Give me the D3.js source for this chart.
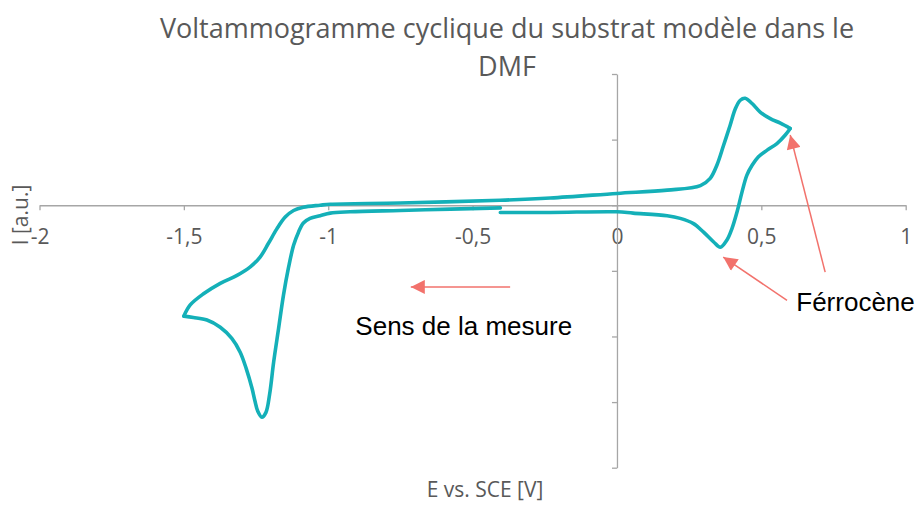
<!DOCTYPE html>
<html>
<head>
<meta charset="utf-8">
<script src="https://cdn.jsdelivr.net/npm/d3@7"></script>
<style>
  html, body { margin: 0; padding: 0; background: #fff; }
  svg { display: block; }
</style>
</head>
<body>
<script>
// Potential (V vs. SCE) and current (a.u.) for each sweep of the cycle
const sweep1E = [-0.404, -0.577, -0.751, -0.924, -0.993, -1.028, -1.063, -1.086, -1.103, -1.120, -1.138, -1.155, -1.172, -1.189, -1.203, -1.216, -1.230, -1.244, -1.254, -1.264, -1.284, -1.305, -1.334, -1.374, -1.420, -1.467, -1.500];
const sweep1I = [-0.04, -0.06, -0.08, -0.10, -0.12, -0.16, -0.20, -0.27, -0.41, -0.61, -0.96, -1.37, -1.88, -2.39, -2.88, -3.16, -3.23, -3.14, -2.98, -2.79, -2.49, -2.24, -2.03, -1.86, -1.75, -1.71, -1.69];

const sweep2E = [-1.500, -1.478, -1.432, -1.374, -1.316, -1.270, -1.236, -1.207, -1.178, -1.149, -1.120, -1.086, -1.028, -0.993, -0.751, -0.404, -0.231, 0.000, 0.174, 0.289, 0.323, 0.346, 0.369, 0.392, 0.410, 0.427, 0.444, 0.468, 0.496, 0.531, 0.566, 0.600];
const sweep2I = [-1.69, -1.52, -1.35, -1.19, -1.07, -0.94, -0.79, -0.58, -0.36, -0.18, -0.08, -0.03, 0.00, 0.015, 0.035, 0.076, 0.11, 0.18, 0.23, 0.30, 0.41, 0.61, 0.91, 1.22, 1.47, 1.60, 1.63, 1.55, 1.42, 1.32, 1.25, 1.17];

const sweep3E = [0.600, 0.583, 0.554, 0.520, 0.490, 0.468, 0.450, 0.433, 0.416, 0.398, 0.381, 0.358, 0.335, 0.300, 0.265, 0.219, 0.174, 0.056, 0.000, -0.231, -0.404];
const sweep3I = [1.17, 1.07, 0.94, 0.84, 0.74, 0.61, 0.46, 0.20, -0.10, -0.36, -0.53, -0.64, -0.56, -0.41, -0.28, -0.20, -0.16, -0.12, -0.10, -0.11, -0.11];

// Axis ticks
const xTicks = [-2, -1.5, -1, -0.5, 0, 0.5, 1];
const yTicks = [-4, -3, -2, -1, 0, 1, 2];

// Annotation arrows: [fromE, fromI, toE, toI]
const arrows = [
  [-0.370, -1.245, -0.714, -1.245],
  [0.589, -1.45, 0.368, -0.79],
  [0.721, -1.02, 0.600, 1.07]
];

const width = 919, height = 505;
const x = d3.scaleLinear().domain([-2, 1]).range([39.5, 905.7]);
const y = d3.scaleLinear().domain([-4, 2]).range([467.7, 74]);

const svg = d3.select("body").append("svg")
  .attr("width", width).attr("height", height);

const axisColor = "#A6A6A6";
const textColor = "#595959";
const curveColor = "#14B0B8";
const arrowColor = "#F2726C";
const uiFont = "'Open Sans', 'Noto Sans', sans-serif";

// Title
const title = svg.append("text")
  .attr("text-anchor", "middle")
  .attr("fill", textColor)
  .style("font-family", uiFont)
  .style("font-size", "27px");
title.append("tspan").attr("x", 507).attr("y", 38).text("Voltammogramme cyclique du substrat modèle dans le");
title.append("tspan").attr("x", 507).attr("y", 76).text("DMF");

// X axis along I = 0
const xAxis = d3.axisBottom(x)
  .tickValues(xTicks)
  .tickSize(5)
  .tickSizeOuter(0)
  .tickFormat(d => d3.format("")(d).replace(".", ",").replace("−", "-"));
const gx = svg.append("g")
  .attr("transform", `translate(0,${y(0)})`)
  .call(xAxis);
gx.select(".domain").attr("stroke", axisColor).attr("stroke-width", 1.3);
gx.selectAll(".tick line").attr("stroke", axisColor).attr("stroke-width", 1.3);
gx.selectAll(".tick text")
  .attr("fill", textColor)
  .attr("dy", "0.32em")
  .attr("y", 32)
  .style("font-family", uiFont)
  .style("font-size", "21px");

// Y axis along E = 0
const yAxis = d3.axisLeft(y)
  .tickValues(yTicks)
  .tickSize(5)
  .tickSizeOuter(0)
  .tickFormat("");
const gy = svg.append("g")
  .attr("transform", `translate(${x(0)},0)`)
  .call(yAxis);
gy.select(".domain").attr("stroke", axisColor).attr("stroke-width", 1.3);
gy.selectAll(".tick line").attr("stroke", axisColor).attr("stroke-width", 1.3);

// Axis titles
svg.append("text")
  .attr("x", 485).attr("y", 497)
  .attr("text-anchor", "middle")
  .attr("fill", textColor)
  .style("font-family", uiFont)
  .style("font-size", "21px")
  .text("E vs. SCE [V]");

svg.append("text")
  .attr("transform", "translate(28,215) rotate(-90)")
  .attr("text-anchor", "middle")
  .attr("fill", textColor)
  .style("font-family", uiFont)
  .style("font-size", "21px")
  .text("I [a.u.]");

// Voltammogram
const line = d3.line()
  .x(d => x(d[0]))
  .y(d => y(d[1]))
  .curve(d3.curveCatmullRom.alpha(0.5));

const sweeps = [
  d3.zip(sweep1E, sweep1I),
  d3.zip(sweep2E, sweep2I),
  d3.zip(sweep3E, sweep3I)
];
svg.append("g").selectAll("path")
  .data(sweeps)
  .join("path")
  .attr("d", line)
  .attr("fill", "none")
  .attr("stroke", curveColor)
  .attr("stroke-width", 3.6)
  .attr("stroke-linecap", "round")
  .attr("stroke-linejoin", "round");

// Arrows
svg.append("defs").append("marker")
  .attr("id", "head")
  .attr("viewBox", "0 0 10 10")
  .attr("refX", 10).attr("refY", 5)
  .attr("markerUnits", "userSpaceOnUse")
  .attr("markerWidth", 15).attr("markerHeight", 14)
  .attr("orient", "auto")
  .append("path")
  .attr("d", "M0,0 L10,5 L0,10 Z")
  .attr("fill", arrowColor);

svg.append("g").selectAll("line")
  .data(arrows)
  .join("line")
  .attr("x1", d => x(d[0])).attr("y1", d => y(d[1]))
  .attr("x2", d => x(d[2])).attr("y2", d => y(d[3]))
  .attr("stroke", arrowColor)
  .attr("stroke-width", 1.5)
  .attr("marker-end", "url(#head)");

// Annotation labels
const annFont = "'Liberation Sans', Arial, sans-serif";
svg.append("text")
  .attr("x", x(-0.906)).attr("y", 335)
  .attr("fill", "#000")
  .style("font-family", annFont)
  .style("font-size", "26px")
  .text("Sens de la mesure");
svg.append("text")
  .attr("x", x(0.621)).attr("y", 311)
  .attr("fill", "#000")
  .style("font-family", annFont)
  .style("font-size", "26px")
  .text("Férrocène");
</script>
</body>
</html>
